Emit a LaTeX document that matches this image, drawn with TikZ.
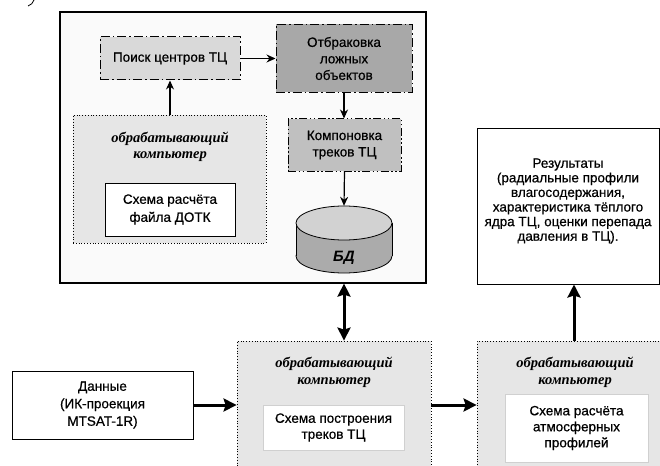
\documentclass[tikz,border=0pt]{standalone}
\usepackage{fontspec}
\setmainfont{Liberation Sans}
\newfontfamily\medfont{Liberation Sans}[FakeBold=0.6]
\newfontfamily\pcfont{Liberation Serif}
\usetikzlibrary{arrows.meta}
\definecolor{outerfill}{HTML}{FAFAFA}
\definecolor{searchfill}{HTML}{D9D9D9}
\definecolor{rejectfill}{HTML}{A8A8A8}
\definecolor{composefill}{HTML}{C0C0C0}
\definecolor{pcfill}{HTML}{E6E6E6}
\definecolor{dbtop}{HTML}{D2D2D2}
\definecolor{dbbody}{HTML}{ABABAB}
\definecolor{softborder}{HTML}{D0D0D0}
\tikzset{
  txt/.style={font=\medfont\fontsize{13.5}{16.5}\selectfont, align=center, inner sep=0pt},
  plainbox/.style={txt, draw, line width=1pt},
  dashdotbox/.style={txt, draw, line width=1pt, dash pattern=on 9pt off 3pt on 1.5pt off 3pt},
  dashdotdotbox/.style={txt, draw, line width=1pt, dash pattern=on 8pt off 2.5pt on 1.5pt off 2.5pt on 1.5pt off 2.5pt},
  pcbox/.style={draw, line width=0.8pt, dotted, fill=pcfill, inner sep=0pt},
  pclabel/.style={font=\pcfont\bfseries\itshape\fontsize{14.5}{17}\selectfont, align=center, inner sep=0pt},
  thin/.style={line width=1.2pt, -{Stealth[length=9pt,width=8pt]}},
  thick/.style={line width=3pt, -{Stealth[length=13pt,width=13pt,inset=2pt]}},
  thickboth/.style={line width=3pt, {Stealth[length=13pt,width=13pt,inset=2pt]}-{Stealth[length=13pt,width=13pt,inset=2pt]}},
}
\begin{document}
\begin{tikzpicture}[x=1pt,y=-1pt]
\useasboundingbox (0,0) rectangle (660,465);
\clip (0,0) rectangle (660,465);
\fill[white] (0,0) rectangle (660,465);
% fragment of a label at top left
\draw[line width=0.8pt] (28,6) .. controls (31,5) and (33,3) .. (34,0);
% outer frame
\node[draw, line width=1.2pt, fill=outerfill, minimum width=366, minimum height=271, inner sep=0pt] (outer) at (243,147.5) {};
% boxes inside the frame
\node[dashdotbox, fill=searchfill, minimum width=140, minimum height=43] (search) at (170,58.5) {Поиск центров ТЦ};
\node[dashdotbox, fill=rejectfill, minimum width=136, minimum height=68] (reject) at (344,58.5) {Отбраковка\\ложных\\объектов};
\node[dashdotdotbox, fill=composefill, minimum width=113, minimum height=52] (compose) at (344.5,145) {Компоновка\\треков ТЦ};
\node[pcbox, minimum width=193, minimum height=128] (pc1) at (169.5,179) {};
\node[pclabel, font=\pcfont\bfseries\itshape\fontsize{14.5}{16.5}\selectfont] (pc1t) at (170,147) {обрабатывающий\\компьютер};
\node[plainbox, fill=white, minimum width=130, minimum height=53, font=\medfont\fontsize{13.5}{18}\selectfont] (dotk) at (170,209.5) {Схема расчёта\\файла ДОТК};
% database cylinder
\draw[line width=0.8pt, fill=dbbody] (344,256) ellipse[x radius=48, y radius=17];
\fill[dbbody] (296,223) rectangle (392,256);
\draw[line width=0.8pt] (296,223) -- (296,256) (392,223) -- (392,256);
\draw[line width=0.8pt, fill=dbtop] (344,223) ellipse[x radius=48, y radius=17];
\node[inner sep=0pt, minimum width=96, minimum height=67] (db) at (344,239.5) {};
\node[font=\bfseries\itshape\fontsize{15}{17}\selectfont, inner sep=0pt] (dbt) at (344,258) {БД};
% results
\node[plainbox, fill=white, minimum width=182, minimum height=155] (results) at (568,206.5) {};
\node[txt, font=\medfont\fontsize{13.5}{14.6}\selectfont] (resultst) at (568,201) {Результаты\\(радиальные профили\\влагосодержания,\\характеристика тёплого\\ядра ТЦ, оценки перепада\\давления в ТЦ).};
% data
\node[plainbox, fill=white, minimum width=181, minimum height=68, font=\medfont\fontsize{13.5}{17.5}\selectfont] (data) at (102.5,405) {Данные\\(ИК-проекция\\MTSAT-1R)};
% bottom processing computers
\node[pcbox, minimum width=194, minimum height=140] (pc2) at (334,411) {};
\node[pclabel] (pc2t) at (334,372) {обрабатывающий\\компьютер};
\node[txt, draw=softborder, line width=0.8pt, fill=white, minimum width=141, minimum height=45, font=\medfont\fontsize{13.5}{16}\selectfont] (track) at (333.5,427.5) {Схема построения\\треков ТЦ};
\node[pcbox, minimum width=196, minimum height=140] (pc3) at (575,411) {};
\node[pclabel] (pc3t) at (575,372) {обрабатывающий\\компьютер};
\node[txt, draw=softborder, line width=0.8pt, fill=white, minimum width=143, minimum height=68, font=\medfont\fontsize{13.5}{16}\selectfont] (atm) at (576.5,428) {Схема расчёта\\атмосферных\\профилей};
% connectors
\draw[thin] (search.east) -- (search.east -| reject.west);
\draw[thin] (pc1.north -| search.south) -- (search.south);
\draw[thin] (reject.south) -- (reject.south |- compose.north);
\draw[thin] (compose.south) -- (db.north);
\draw[thickboth] (db.south |- outer.south) -- (db.south |- pc2.north);
\draw[thick] (data.east) -- (data.east -| pc2.west);
\draw[thick] (pc2.east |- data.east) -- (pc3.west |- data.east);
\draw[thick] (pc3.north -| 574,0) -- (results.south -| 574,0);
\end{tikzpicture}
\end{document}
